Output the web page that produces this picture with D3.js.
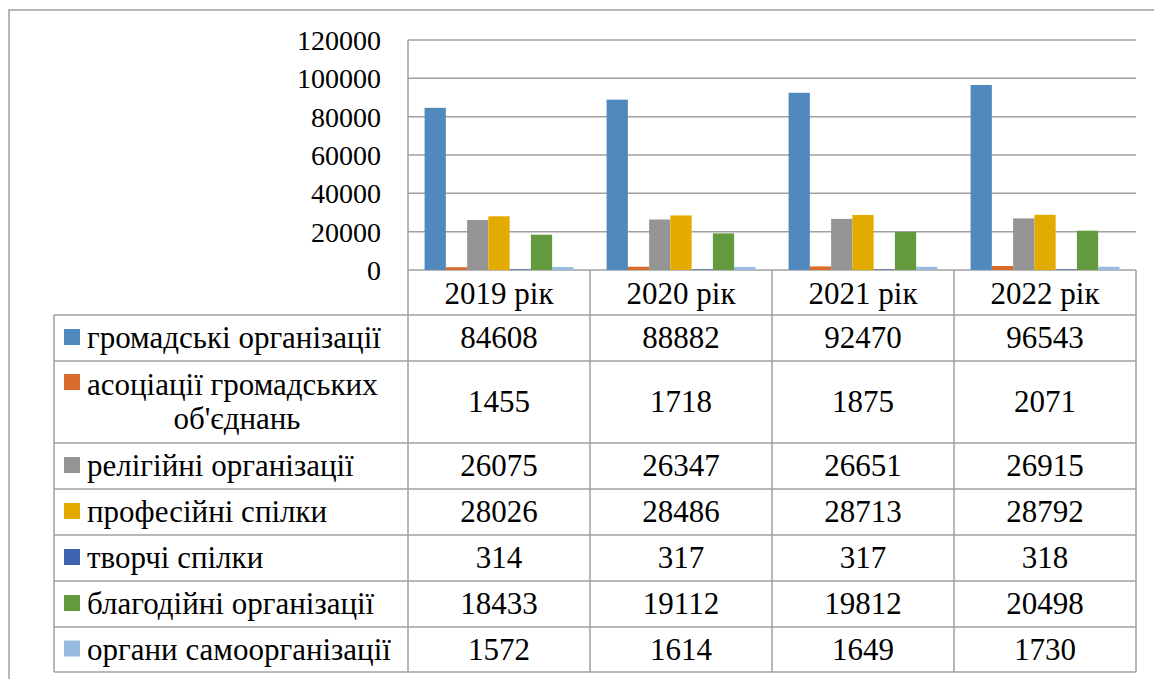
<!DOCTYPE html>
<html><head><meta charset="utf-8"><script src="https://cdn.jsdelivr.net/npm/d3@7"></script></head>
<body style="margin:0">
<script>
// data
const years = ['2019 рік', '2020 рік', '2021 рік', '2022 рік'];
const seriesNames = [
  'громадські організації',
  'асоціації громадських об\'єднань',
  'релігійні організації',
  'професійні спілки',
  'творчі спілки',
  'благодійні організації',
  'органи самоорганізації'
];
const seriesColors = ['#4F89BD', '#D86C2B', '#959595', '#E3AA00', '#3E63AF', '#639A3D', '#99BBE0'];
const values = [
  [84608, 88882, 92470, 96543],
  [1455, 1718, 1875, 2071],
  [26075, 26347, 26651, 26915],
  [28026, 28486, 28713, 28792],
  [314, 317, 317, 318],
  [18433, 19112, 19812, 20498],
  [1572, 1614, 1649, 1730]
];
const yTicks = [0, 20000, 40000, 60000, 80000, 100000, 120000];

// layout
const W = 1154, H = 679;
const cfg = {
  stroke: { color: '#A0A0A0', width: 1.5 },
  plot: { left: 408, right: 1136, top: 40, bottom: 270 },
  table: { left: 54, headerBottom: 315, rowHeights: [46, 82, 46, 46, 46, 46, 45] },
  axisFont: 28,
  tableFont: 31
};

const svg = d3.select('body').append('svg')
  .attr('width', W).attr('height', H);

const x = d3.scaleBand().domain(years).range([cfg.plot.left, cfg.plot.right]);
const xInner = d3.scaleBand().domain(d3.range(seriesNames.length))
  .range([0, x.bandwidth()]).paddingOuter(0.78).paddingInner(0);
const y = d3.scaleLinear().domain([0, 120000]).range([cfg.plot.bottom, cfg.plot.top]);

// text helper
const txt = (sel, size) => sel
  .attr('font-size', size)
  .style('font-family', '"Liberation Serif", monospace');

// outer border
svg.append('path')
  .attr('d', `M9,${H} V10 H${W}`)
  .attr('fill', 'none')
  .attr('stroke', cfg.stroke.color)
  .attr('stroke-width', cfg.stroke.width);

// gridlines
svg.append('g').selectAll('line')
  .data(yTicks)
  .join('line')
  .attr('x1', cfg.plot.left).attr('x2', cfg.plot.right)
  .attr('y1', d => y(d)).attr('y2', d => y(d))
  .attr('stroke', cfg.stroke.color)
  .attr('stroke-width', cfg.stroke.width);

// y axis labels
svg.selectAll('text.tick')
  .data(yTicks)
  .join('text')
  .attr('class', 'tick')
  .attr('x', 381)
  .attr('y', d => y(d) + 10)
  .attr('text-anchor', 'end')
  .call(txt, cfg.axisFont)
  .text(d => d);

// bars
const groups = svg.append('g').selectAll('g')
  .data(years)
  .join('g')
  .attr('transform', d => `translate(${x(d)},0)`);

groups.selectAll('rect')
  .data((d, j) => values.map((row, i) => ({ i, v: row[j] })))
  .join('rect')
  .attr('x', d => xInner(d.i))
  .attr('width', xInner.bandwidth())
  .attr('y', d => y(d.v))
  .attr('height', d => y(0) - y(d.v))
  .attr('fill', d => seriesColors[d.i]);

// data table
const rowTops = [];
let acc = cfg.table.headerBottom;
cfg.table.rowHeights.forEach(h => { rowTops.push(acc); acc += h; });
const tableBottom = acc;

const grid = svg.append('g')
  .attr('stroke', cfg.stroke.color)
  .attr('stroke-width', cfg.stroke.width);

// horizontal lines
grid.selectAll('line.h')
  .data([...rowTops, tableBottom])
  .join('line')
  .attr('class', 'h')
  .attr('x1', cfg.table.left).attr('x2', cfg.plot.right)
  .attr('y1', d => d).attr('y2', d => d);

// vertical lines
const vx = [cfg.plot.left, ...years.map(d => x(d) + x.bandwidth())];
grid.selectAll('line.v')
  .data(vx)
  .join('line')
  .attr('class', 'v')
  .attr('x1', d => d).attr('x2', d => d)
  .attr('y1', (d, i) => i === 0 ? cfg.plot.top : cfg.plot.bottom)
  .attr('y2', tableBottom);

grid.append('line')
  .attr('x1', cfg.table.left).attr('x2', cfg.table.left)
  .attr('y1', cfg.table.headerBottom).attr('y2', tableBottom);

// header (years)
svg.selectAll('text.year')
  .data(years)
  .join('text')
  .attr('class', 'year')
  .attr('x', d => x(d) + x.bandwidth() / 2)
  .attr('y', (cfg.plot.bottom + cfg.table.headerBottom) / 2 + 11)
  .attr('text-anchor', 'middle')
  .call(txt, cfg.tableFont)
  .text(d => d);

// legend keys
svg.selectAll('rect.key')
  .data(seriesNames)
  .join('rect')
  .attr('class', 'key')
  .attr('x', 64)
  .attr('y', (d, i) => rowTops[i] + (i === 1 ? 13 : cfg.table.rowHeights[i] / 2 - 9))
  .attr('width', 16).attr('height', 16)
  .attr('fill', (d, i) => seriesColors[i]);

// row labels
const labelLines = seriesNames.map((d, i) => i === 1
  ? [{ t: 'асоціації громадських', x: 87, dy: 34, a: 'start' }, { t: 'об\'єднань', x: 237, dy: 68, a: 'middle' }]
  : [{ t: d, x: 87, dy: cfg.table.rowHeights[i] / 2 + 10, a: 'start' }]);

svg.selectAll('text.label')
  .data(labelLines.flatMap((lines, i) => lines.map(l => ({ ...l, i }))))
  .join('text')
  .attr('class', 'label')
  .attr('x', d => d.x)
  .attr('y', d => rowTops[d.i] + d.dy)
  .attr('text-anchor', d => d.a)
  .call(txt, cfg.tableFont)
  .text(d => d.t);

// cell values
const cells = values.flatMap((row, i) => row.map((v, j) => ({ v, i, j })));
svg.selectAll('text.val')
  .data(cells)
  .join('text')
  .attr('class', 'val')
  .attr('x', d => x(years[d.j]) + x.bandwidth() / 2)
  .attr('y', d => rowTops[d.i] + cfg.table.rowHeights[d.i] / 2 + 10)
  .attr('text-anchor', 'middle')
  .call(txt, cfg.tableFont)
  .text(d => d.v);
</script>
</body></html>
